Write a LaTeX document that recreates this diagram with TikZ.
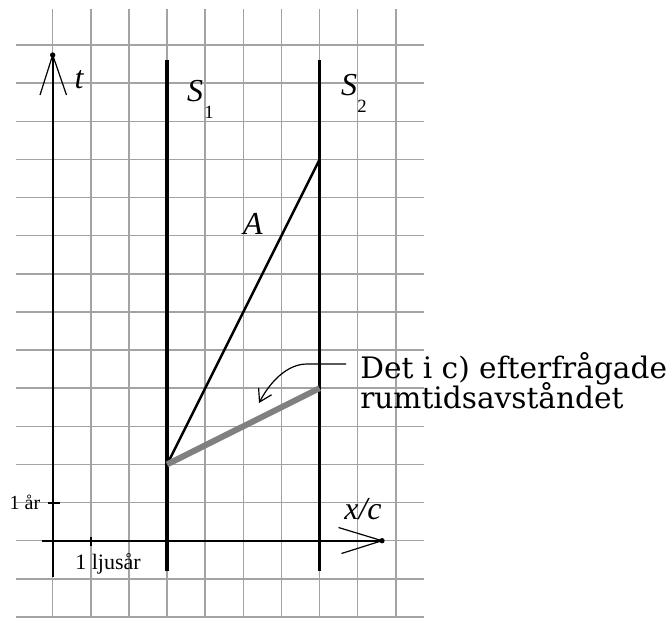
\documentclass[tikz,border=0pt]{standalone}
\usepackage{fontspec}
\setmainfont{Liberation Serif}
\newfontfamily\annfont{DejaVu Serif}
\usetikzlibrary{arrows.meta}
\begin{document}
\begin{tikzpicture}[x=0.75pt,y=-0.75pt,
  gridline/.style={draw=black!36, line width=1.1pt},
  axisline/.style={draw=black, line width=1.4pt},
  barb/.style={draw=black, line width=0.9pt},
  worldline/.style={draw=black, line width=2.5pt},
  lightline/.style={draw=black, line width=1.9pt},
  interval/.style={draw=black!50, line width=4.5pt},
  biglabel/.style={inner sep=0pt, font=\fontsize{24}{28}\selectfont\itshape},
  sublabel/.style={inner sep=0pt, font=\fontsize{14}{16}\selectfont},
  smalllabel/.style={inner sep=0pt, font=\fontsize{15}{17}\selectfont},
  annlabel/.style={inner sep=0pt, anchor=base west, font=\annfont\fontsize{22.2}{25}\selectfont},
  pointer/.style={draw=black, line width=0.9pt, -{Straight Barb[length=9pt,width=11pt]}}]
\useasboundingbox (0,0) rectangle (669,618);
\fill[white] (0,0) rectangle (669,618);
% grid
\foreach \j in {0,...,9} \draw[gridline] ({52.7+38.13*\j},9) -- ({52.7+38.13*\j},617);
\foreach \k in {0,...,15} \draw[gridline] (15.5,{45+38.13*\k}) -- (424,{45+38.13*\k});
% axes
\coordinate (tbot) at (52.7,577);
\coordinate (ttip) at (52.7,55);
\coordinate (tl) at (40,95);
\coordinate (tr) at (66.5,95);
\coordinate (xleft) at (41.7,540.7);
\coordinate (xtip) at (382,540.7);
\coordinate (xu) at (338.5,527.5);
\coordinate (xd) at (341.5,553.5);
\draw[axisline] (tbot) -- (ttip);
\draw[axisline] (xleft) -- (xtip);
\draw[barb] (tl) -- (ttip) -- (tr);
\draw[barb] (xu) -- (xtip) -- (xd);
\fill (ttip) circle (2pt);
\fill (xtip) circle (2pt);
% ticks
\coordinate (ya) at (48,502.6);
\coordinate (yb) at (60,502.6);
\coordinate (xa) at (90.8,536.5);
\coordinate (xb) at (90.8,545.5);
\draw[axisline] (ya) -- (yb);
\draw[axisline] (xa) -- (xb);
% world lines
\coordinate (s1top) at (167.1,60);
\coordinate (s1bot) at (167.1,571);
\coordinate (s2top) at (319.6,60);
\coordinate (s2bot) at (319.6,571);
\draw[worldline] (s1top) -- (s1bot);
\draw[worldline] (s2top) -- (s2bot);
\coordinate (E1) at (167.1,464.4);
\coordinate (E2) at (319.6,159.4);
\coordinate (E3) at (319.6,388.2);
\draw[lightline] (E1) -- (E2);
\draw[interval] (E1) -- (E3);
% labels
\node[biglabel] (tlab) at (79,80) {t};
\node[biglabel] (S1) at (195,91) {S};
\node[sublabel] (S1i) at (209,112) {1};
\node[biglabel] (S2) at (349,85) {S};
\node[sublabel] (S2i) at (362,106) {2};
\node[biglabel] (Alab) at (253,224) {A};
\node[biglabel] (xc) at (363,509) {x/c};
\node[smalllabel] (year) at (25,502) {1 år};
\node[smalllabel, font=\fontsize{16.5}{18}\selectfont] (ly) at (108,564) {1 ljusår};
% annotation
\node[annlabel] (ann1) at (360,378) {Det i c) efterfrågade};
\node[annlabel] (ann2) at (360,408) {rumtidsavståndet};
\coordinate (p0) at (346,364);
\coordinate (p1) at (307,364);
\coordinate (ptip) at (259,403);
\draw[pointer] (p0) -- (p1) .. controls (287,364) and (270,382) .. (ptip);
\end{tikzpicture}
\end{document}
